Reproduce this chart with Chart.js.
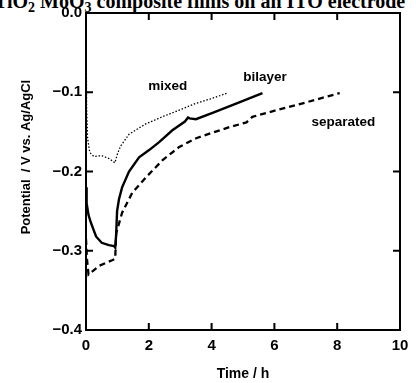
<!DOCTYPE html>
<html><head><meta charset="utf-8">
<script src="https://cdn.jsdelivr.net/npm/chart.js@4"></script>
<style>
html,body{margin:0;padding:0;background:#fff;overflow:hidden;width:416px;height:383px;}
#wrap{position:relative;width:416px;height:383px;overflow:hidden;}
#title{position:absolute;left:-6px;top:-9px;font-family:"Liberation Serif","Times New Roman",serif;font-weight:bold;font-size:20px;line-height:1;white-space:nowrap;color:#000;}
#title sub{font-size:0.7em;vertical-align:-0.25em;line-height:0;}
canvas{position:absolute;left:0;top:0;}
</style></head><body>
<div id="wrap"><div id="title">TiO<sub>2</sub> MoO<sub>3</sub> composite films on an ITO electrode</div><canvas id="c" width="416" height="383"></canvas></div>
<script>
// Time (h) and potential (V vs Ag/AgCl)
const mixedT = [0, 0.01, 0.02, 0.05, 0.12, 0.25, 0.5, 0.75, 0.92, 1.0, 1.1, 1.37, 1.9, 2.43, 3.0, 3.5, 4.0, 4.5];
const mixedV = [-0.002, -0.06, -0.12, -0.158, -0.176, -0.181, -0.18, -0.184, -0.189, -0.178, -0.168, -0.153, -0.14, -0.131, -0.122, -0.114, -0.108, -0.101];

const bilayerT = [0, 0.02, 0.08, 0.16, 0.32, 0.5, 0.73, 0.89, 0.93, 0.96, 0.99, 1.05, 1.15, 1.37, 1.69, 2.01, 2.33, 2.75, 3.15, 3.25, 3.3, 3.5, 4.03, 4.8, 5.62];
const bilayerV = [-0.22, -0.24, -0.255, -0.265, -0.282, -0.29, -0.293, -0.294, -0.296, -0.28, -0.25, -0.235, -0.22, -0.2, -0.182, -0.173, -0.163, -0.148, -0.137, -0.132, -0.133, -0.134, -0.126, -0.114, -0.101];

const separatedT = [0, 0.03, 0.08, 0.42, 0.83, 0.93, 0.94, 0.96, 1.15, 1.47, 1.92, 2.43, 2.97, 3.51, 4.03, 4.57, 5.11, 5.3, 5.75, 6.9, 8.08];
const separatedV = [-0.285, -0.31, -0.33, -0.319, -0.312, -0.31, -0.299, -0.278, -0.252, -0.227, -0.207, -0.186, -0.169, -0.158, -0.151, -0.144, -0.138, -0.131, -0.126, -0.114, -0.101];

const xTicks = [0, 2, 4, 6, 8, 10];
const yTicks = [0.0, -0.1, -0.2, -0.3, -0.4];

const seriesLabels = ['mixed', 'bilayer', 'separated'];
const labelT = [2.6, 5.7, 8.2];
const labelV = [-0.093, -0.081, -0.138];

function pts(t, v) { return t.map((x, i) => ({x: x, y: v[i]})); }

const frameTicks = {
  id: 'frameTicks',
  afterDatasetsDraw(chart) {
    const {ctx, chartArea: a, scales: {x, y}} = chart;
    ctx.save();
    ctx.strokeStyle = '#000';
    ctx.lineWidth = 2;
    ctx.strokeRect(a.left, a.top, a.right - a.left, a.bottom - a.top);
    const L = 7;
    ctx.beginPath();
    xTicks.slice(1, -1).forEach(v => {
      const p = x.getPixelForValue(v);
      ctx.moveTo(p, a.bottom); ctx.lineTo(p, a.bottom - L);
      ctx.moveTo(p, a.top); ctx.lineTo(p, a.top + L);
    });
    yTicks.slice(1, -1).forEach(v => {
      const p = y.getPixelForValue(v);
      ctx.moveTo(a.left, p); ctx.lineTo(a.left + L, p);
      ctx.moveTo(a.right, p); ctx.lineTo(a.right - L, p);
    });
    ctx.stroke();
    ctx.fillStyle = '#000';
    ctx.font = 'bold 13.5px "Liberation Sans", Arial, sans-serif';
    ctx.textAlign = 'center';
    ctx.textBaseline = 'middle';
    seriesLabels.forEach((s, i) => {
      ctx.fillText(s, x.getPixelForValue(labelT[i]), y.getPixelForValue(labelV[i]));
    });
    ctx.restore();
  }
};

const tickFont = {family: '"Liberation Sans", Arial, sans-serif', weight: 'bold', size: 15};
const titleFont = {family: '"Liberation Sans", Arial, sans-serif', weight: 'bold', size: 14};

new Chart(document.getElementById('c'), {
  type: 'scatter',
  data: {
    datasets: [
      {label: 'mixed', data: pts(mixedT, mixedV), showLine: true, borderColor: '#000', borderWidth: 1.3, borderDash: [1.5, 1.8], pointRadius: 0, tension: 0},
      {label: 'bilayer', data: pts(bilayerT, bilayerV), showLine: true, borderColor: '#000', borderWidth: 2.4, pointRadius: 0, tension: 0},
      {label: 'separated', data: pts(separatedT, separatedV), showLine: true, borderColor: '#000', borderWidth: 2.3, borderDash: [6, 4], pointRadius: 0, tension: 0}
    ]
  },
  options: {
    responsive: false,
    animation: false,
    devicePixelRatio: 1,
    layout: {padding: {top: 13, right: 16, left: 0, bottom: 0}},
    plugins: {legend: {display: false}, tooltip: {enabled: false}},
    scales: {
      x: {
        type: 'linear', min: 0, max: 10,
        afterBuildTicks(s) { s.ticks = xTicks.map(v => ({value: v})); },
        afterFit(s) { s.height = 53; },
        ticks: {font: tickFont, color: '#000', padding: 7, maxRotation: 0, callback: v => String(v)},
        grid: {display: false, drawTicks: false},
        border: {display: false},
        title: {display: true, text: 'Time / h', color: '#000', font: titleFont, padding: {top: 0, bottom: 0}}
      },
      y: {
        type: 'linear', min: -0.4, max: 0,
        afterBuildTicks(s) { s.ticks = yTicks.map(v => ({value: v})); },
        afterFit(s) { s.width = 86; },
        ticks: {font: tickFont, color: '#000', padding: 4, callback: v => (Math.abs(v) < 1e-9 ? '0.0' : '\u2212' + Math.abs(v).toFixed(1))},
        grid: {display: false, drawTicks: false},
        border: {display: false},
        title: {display: true, text: '        Potential  / V vs. Ag/AgCl', color: '#000', font: {family: '"Liberation Sans", Arial, sans-serif', weight: 'bold', size: 13}, padding: {top: 19, bottom: 0}}
      }
    }
  },
  plugins: [frameTicks]
});
</script>
</body></html>
